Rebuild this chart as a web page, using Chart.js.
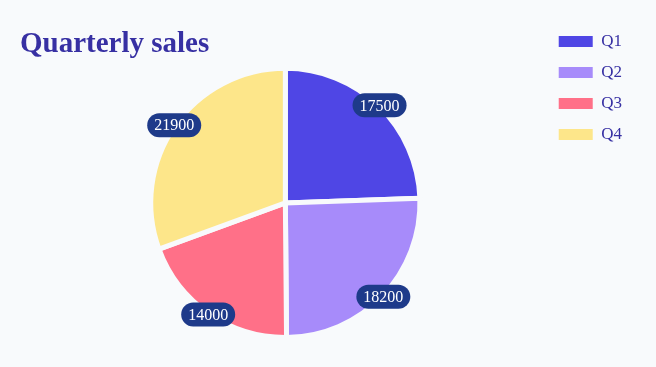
<!DOCTYPE html>
<html>
<head>
<meta charset="utf-8">
<script src="https://cdn.jsdelivr.net/npm/chart.js@4"></script>
<style>
  html, body { margin: 0; padding: 0; background: #f8fafc; }
  #wrap { width: 656px; height: 367px; }
</style>
</head>
<body>
<div id="wrap"><canvas id="pie"></canvas></div>
<script>
const quarters = ["Q1", "Q2", "Q3", "Q4"];
const sales = [17500, 18200, 14000, 21900];
const colors = ["#4f46e5", "#a78bfa", "#ff7088", "#fde68a"];

const serif = "'Liberation Serif', 'DejaVu Serif', serif";

// rounded value badges at the outer edge of each slice
const badges = {
  id: "badges",
  afterLayout(chart) {
    // title sits a little further left than the pie's box
    chart.titleBlock.left = 20;
  },
  afterDatasetsDraw(chart) {
    const c = chart.ctx;
    const meta = chart.getDatasetMeta(0);
    c.save();
    c.font = "16px " + serif;
    c.textAlign = "center";
    c.textBaseline = "middle";
    meta.data.forEach((arc, i) => {
      const p = arc.getProps(["x", "y", "startAngle", "endAngle", "outerRadius"], true);
      const mid = (p.startAngle + p.endAngle) / 2;
      const r = p.outerRadius + 1;
      const x = p.x + Math.cos(mid) * r;
      const y = p.y + Math.sin(mid) * r;
      const txt = String(sales[i]);
      const w = c.measureText(txt).width + 14;
      const h = 24;
      c.fillStyle = "#1e3a8a";
      c.beginPath();
      c.roundRect(x - w / 2, y - h / 2, w, h, h / 2);
      c.fill();
      c.fillStyle = "#ffffff";
      c.fillText(txt, x, y + 1);
    });
    c.restore();
  }
};

new Chart(document.getElementById("pie"), {
  type: "pie",
  data: {
    labels: quarters,
    datasets: [
      {
        data: sales,
        backgroundColor: colors,
        borderColor: "#f8fafc",
        borderWidth: 5,
      },
    ],
  },
  options: {
    responsive: true,
    maintainAspectRatio: false,
    animation: false,
    layout: {
      padding: { left: 26, right: 24, top: 19, bottom: 27 },
    },
    plugins: {
      title: {
        display: true,
        text: "Quarterly sales",
        align: "start",
        fullSize: false,
        color: "#3730a3",
        font: { family: serif, size: 29, weight: "bold" },
        padding: { top: 8, bottom: 4 },
      },
      legend: {
        position: "right",
        align: "start",
        labels: {
          boxWidth: 34,
          boxHeight: 11,
          padding: 14,
          color: "#3730a3",
          font: { family: serif, size: 17 },
          generateLabels(chart) {
            return quarters.map((q, i) => ({
              text: q,
              fillStyle: colors[i],
              strokeStyle: colors[i],
              lineWidth: 0,
              fontColor: "#3730a3",
              hidden: false,
              index: i,
            }));
          },
        },
      },
      tooltip: { enabled: false },
    },
  },
  plugins: [badges],
});
</script>
</body>
</html>
